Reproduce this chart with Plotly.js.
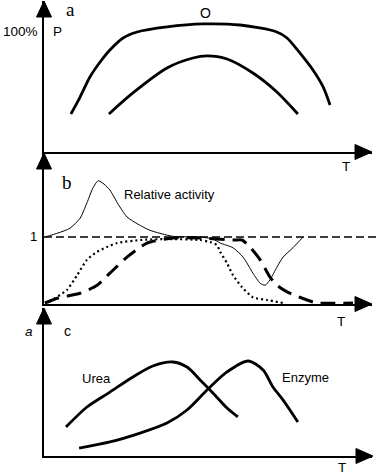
<!DOCTYPE html>
<html>
<head>
<meta charset="utf-8">
<script src="https://cdn.plot.ly/plotly-3.0.1.min.js"></script>
<style>html,body{margin:0;padding:0;background:#fff;}#chart{width:376px;height:475px;}</style>
</head>
<body>
<div id="chart"></div>
<script>
// ---- Panel a: P (%) vs T ----
const aUpperT = [8.2, 11.0, 14.0, 17.1, 20.1, 24.1, 28.4, 37.5, 48.5, 59.8, 71.0, 74.1, 78.0, 82.0, 85.1, 87.2];
const aUpperP = [31.7, 45.8, 62.5, 75, 85, 95, 100, 104.2, 106.7, 105.8, 100, 95, 82.5, 68.3, 54.2, 39.2];
const aLowerT = [19.8, 27.1, 37.5, 45.4, 49.7, 55.8, 63.7, 71.0, 77.4];
const aLowerP = [31.7, 49.2, 70, 78.3, 80, 77.5, 65.8, 50, 31.7];

// ---- Panel b: relative values vs T ----
const relActT = [0.3, 4.3, 7.9, 11.0, 13.1, 14.9, 16.5, 18.3, 20.1, 22.6, 25.3, 28.7, 32.3, 39.3, 47.6, 51.5, 53.7, 57.6, 60.7, 63.7, 65.9, 67.4, 68.9, 71.0, 72.9, 75.9, 79.0];
const relActV = [1.0, 1.06, 1.13, 1.28, 1.51, 1.73, 1.84, 1.79, 1.70, 1.49, 1.30, 1.19, 1.10, 1.01, 1.0, 0.97, 0.91, 0.84, 0.70, 0.46, 0.31, 0.28, 0.36, 0.55, 0.70, 0.84, 1.0];
const dottedT = [0.3, 3.4, 7.0, 10.1, 13.1, 16.2, 19.2, 22.3, 29.3, 37.5, 47.6, 50.6, 52.7, 53.7, 55.8, 57.6, 60.4, 63.7, 68.0, 72.9];
const dottedV = [0.015, 0.09, 0.21, 0.43, 0.66, 0.78, 0.85, 0.91, 0.955, 0.97, 0.955, 0.925, 0.88, 0.78, 0.61, 0.43, 0.25, 0.10, 0.06, 0.015];
const dashedT = [0.3, 4.3, 11.0, 16.2, 20.1, 25.3, 31.4, 39.3, 47.6, 57.6, 60.4, 62.8, 65.9, 68.9, 71.0, 74.1, 80.2, 83.2, 94.2];
const dashedV = [0.015, 0.09, 0.16, 0.28, 0.46, 0.70, 0.91, 0.985, 0.985, 0.955, 0.955, 0.85, 0.66, 0.40, 0.28, 0.18, 0.06, 0.015, 0.015];
const refLevel = 1;

// ---- Panel c: a vs T ----
const ureaT = [6.7, 13.1, 20.1, 27.1, 33.2, 39.3, 43.6, 47.6, 51.5, 55.8, 59.1];
const ureaA = [1.96, 3.31, 4.32, 5.34, 6.08, 6.35, 6.01, 5.14, 4.26, 3.24, 2.64];
const enzT = [10.7, 20.1, 29.3, 37.5, 43.6, 49.7, 55.8, 62.2, 66.8, 69.8, 72.9, 77.4];
const enzA = [0.54, 0.95, 1.55, 2.23, 3.11, 4.46, 5.68, 6.42, 5.81, 4.66, 3.78, 2.30];

const W = 376, H = 475;
const px = x => x / W;
const py = y => 1 - y / H;

const thick = {color: '#000', width: 2.8, shape: 'spline', smoothing: 0.8};
const traces = [
  {x: aUpperT, y: aUpperP, xaxis: 'x', yaxis: 'y', mode: 'lines', line: thick},
  {x: aLowerT, y: aLowerP, xaxis: 'x', yaxis: 'y', mode: 'lines', line: thick},
  {x: relActT, y: relActV, xaxis: 'x2', yaxis: 'y2', mode: 'lines', line: {color: '#000', width: 1, shape: 'spline', smoothing: 0.6}},
  {x: dottedT, y: dottedV, xaxis: 'x2', yaxis: 'y2', mode: 'lines', line: {color: '#000', width: 2.2, dash: '2px,3px', shape: 'spline', smoothing: 0.6}},
  {x: dashedT, y: dashedV, xaxis: 'x2', yaxis: 'y2', mode: 'lines', line: {color: '#000', width: 3, dash: '15px,8px', shape: 'spline', smoothing: 0.6}},
  {x: ureaT, y: ureaA, xaxis: 'x3', yaxis: 'y3', mode: 'lines', line: thick},
  {x: enzT, y: enzA, xaxis: 'x3', yaxis: 'y3', mode: 'lines', line: thick}
];

const xDom = [px(44), px(372)];
function xa(anchor) {
  return {domain: xDom, range: [0, 100], anchor: anchor, showline: true, linecolor: '#000', linewidth: 2,
          showticklabels: false, ticks: '', showgrid: false, zeroline: false, fixedrange: true};
}
function ya(anchor, dom, range) {
  return {domain: dom, range: range, anchor: anchor, showline: true, linecolor: '#000', linewidth: 2,
          showticklabels: false, ticks: '', showgrid: false, zeroline: false, fixedrange: true};
}

function tri(pts) {
  const d = 'M' + pts.map(p => px(p[0]) + ',' + py(p[1])).join(' L') + ' Z';
  return {type: 'path', xref: 'paper', yref: 'paper', path: d, fillcolor: '#000', line: {color: '#000', width: 1}};
}
const shapes = [
  tri([[44, 1], [36.5, 17], [51.5, 17]]),
  tri([[372, 152], [355, 144.5], [355, 159.5]]),
  tri([[44, 153], [36.5, 169], [51.5, 169]]),
  tri([[372, 304], [355, 296.5], [355, 311.5]]),
  tri([[44, 308], [36.5, 324], [51.5, 324]]),
  tri([[373, 456], [356, 448.5], [356, 463.5]]),
  {type: 'line', xref: 'paper', yref: 'y2', x0: px(44), x1: 1, y0: refLevel, y1: refLevel,
   line: {color: '#000', width: 1.6, dash: '8px,4px'}}
];

const sans = 'Liberation Sans, Arial, sans-serif';
const serif = 'Liberation Serif, Times New Roman, serif';
function lab(text, x, y, size, family, anchor) {
  return {text: text, xref: 'paper', yref: 'paper', x: px(x), y: py(y), xanchor: anchor || 'center', yanchor: 'middle',
          showarrow: false, font: {family: family || sans, size: size || 13, color: '#000'}};
}
const annotations = [
  lab('a', 70, 10, 19, serif),
  lab('100%', 1, 32, 13.5, sans, 'left'),
  lab('P', 57, 32, 13.5),
  lab('O', 205, 13, 14),
  lab('T', 346, 167, 13.5),
  lab('b', 67, 182, 19, serif),
  lab('Relative activity', 122, 195, 13, sans, 'left'),
  lab('1', 33, 237, 13),
  lab('T', 341, 321, 13.5),
  lab('<i>a</i>', 29, 331, 13.5),
  lab('c', 67, 331, 14),
  lab('Urea', 80, 378, 13, sans, 'left'),
  lab('Enzyme', 280, 377, 13, sans, 'left'),
  lab('T', 342, 467, 13.5)
];

const layout = {
  width: W, height: H, margin: {l: 0, r: 0, t: 0, b: 0}, paper_bgcolor: '#fff', plot_bgcolor: 'rgba(0,0,0,0)',
  showlegend: false,
  xaxis: xa('y'), yaxis: ya('x', [py(152), py(1)], [0, 125.8]),
  xaxis2: xa('y2'), yaxis2: ya('x2', [py(304), py(153)], [0, 2.254]),
  xaxis3: xa('y3'), yaxis3: ya('x3', [py(456), py(308)], [0, 10]),
  shapes: shapes, annotations: annotations
};
Plotly.newPlot('chart', traces, layout, {staticPlot: true, displayModeBar: false});
</script>
</body>
</html>
